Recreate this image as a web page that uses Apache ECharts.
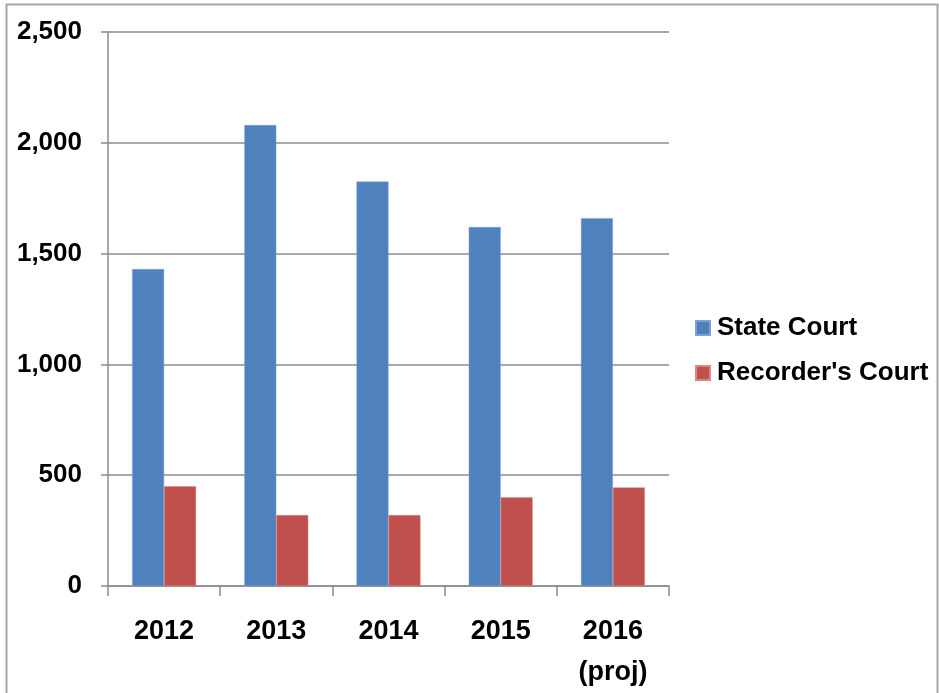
<!DOCTYPE html>
<html>
<head>
<meta charset="utf-8">
<script src="https://cdn.jsdelivr.net/npm/echarts@6/dist/echarts.min.js"></script>
<style>
html,body{margin:0;padding:0;background:#fff;}
#chart{width:939px;height:693px;}
</style>
</head>
<body>
<div id="chart"></div>
<script>
var categories = ['2012', '2013', '2014', '2015', '2016\n(proj)'];
var seriesNames = ['State Court', "Recorder's Court"];
var stateCourt = [1430, 2080, 1825, 1620, 1660];
var recordersCourt = [450, 320, 320, 400, 445];
var yTicks = { min: 0, max: 2500, interval: 500 };

var chart = echarts.init(document.getElementById('chart'));
var fontFam = '"Liberation Sans", Arial, sans-serif';
chart.setOption({
  animation: false,
  backgroundColor: '#ffffff',
  graphic: [{
    type: 'rect',
    shape: { x: 6.5, y: 4.5, width: 931, height: 720 },
    style: { fill: 'none', stroke: '#a6a6a6', lineWidth: 2 },
    silent: true
  }],
  grid: { left: 108, right: 270, top: 32, bottom: 106, containLabel: false },
  legend: {
    orient: 'vertical',
    left: 690,
    top: 310,
    itemWidth: 14,
    itemHeight: 14,
    itemGap: 19,
    icon: 'rect',
    textStyle: { fontSize: 26, fontWeight: 'bold', color: '#000', fontFamily: fontFam, padding: [0, 0, 0, 2] },
    data: seriesNames
  },
  xAxis: {
    type: 'category',
    data: categories,
    axisLine: { lineStyle: { color: '#8c8c8c', width: 1.5 } },
    axisTick: { show: true, length: 10, lineStyle: { color: '#8c8c8c', width: 1.5 } },
    axisLabel: {
      color: '#000', fontSize: 27, fontWeight: 'bold', fontFamily: fontFam,
      margin: 25, lineHeight: 41, interval: 0
    },
    splitLine: { show: false }
  },
  yAxis: {
    type: 'value',
    min: yTicks.min,
    max: yTicks.max,
    interval: yTicks.interval,
    axisLine: { show: true, lineStyle: { color: '#8c8c8c', width: 1.5 } },
    axisTick: { show: true, length: 7, lineStyle: { color: '#8c8c8c', width: 1.5 } },
    axisLabel: {
      color: '#000', fontSize: 26, fontWeight: 'bold', fontFamily: fontFam,
      margin: 26,
      formatter: function (v) { return v.toLocaleString('en-US'); }
    },
    splitLine: { show: true, lineStyle: { color: '#8c8c8c', width: 1.5 } }
  },
  series: [
    {
      name: seriesNames[0], type: 'bar', data: stateCourt,
      barGap: '0%', barCategoryGap: '43%',
      itemStyle: { color: '#4F81BD', borderColor: '#7ea3d3', borderWidth: 0.5 }
    },
    {
      name: seriesNames[1], type: 'bar', data: recordersCourt,
      barGap: '0%', barCategoryGap: '43%',
      itemStyle: { color: '#C0504D', borderColor: '#d98885', borderWidth: 0.5 }
    }
  ]
});
</script>
</body>
</html>
